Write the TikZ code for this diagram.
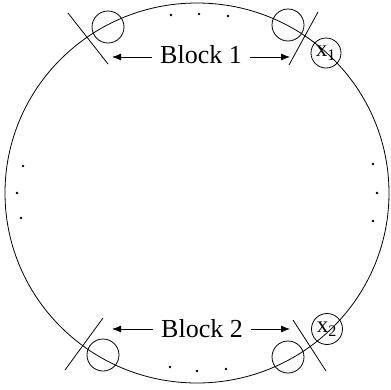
\documentclass[tikz,border=0pt]{standalone}
\usepackage{fontspec}
\setmainfont{Liberation Serif}
\usetikzlibrary{arrows.meta}

\begin{document}
\begin{tikzpicture}[x=1pt, y=-1pt, line width=0.8pt]
        \useasboundingbox (0,0) rectangle (391,389);

        % Draw ring
        \draw (197,193) ellipse [x radius=192, y radius=190];

        % Draw nodes
        \node[circle, draw, minimum size=32pt] (a) at (108,27) {};
        \node[circle, draw, minimum size=32pt] (b) at (288,25) {};
        \node[circle, draw, minimum size=32pt] (c) at (103,355) {};
        \node[circle, draw, minimum size=32pt] (d) at (288,357) {};
        \node[circle, draw, minimum size=30pt, inner sep=0pt, font=\fontsize{23}{25}\selectfont] (x1) at (326,53) {x\textsubscript{1}};
        \node[circle, draw, minimum size=31pt, inner sep=0pt, font=\fontsize{23}{25}\selectfont] (x2) at (327,329) {x\textsubscript{2}};

        % Draw cuts
        \draw (68,13) -- (108,64);
        \draw (318,12) -- (289,65);
        \draw (103,318) -- (65,370);
        \draw (293,320) -- (326,371);

        % Draw block labels
        \node[anchor=base, inner xsep=8pt, font=\fontsize{26}{30}\selectfont] (b1) at (201,63) {Block 1};
        \node[anchor=base, inner xsep=8pt, font=\fontsize{26}{30}\selectfont] (b2) at (202,337) {Block 2};
        \coordinate (b1l) at (112,57);
        \coordinate (b1r) at (290,57);
        \coordinate (b2l) at (112,329);
        \coordinate (b2r) at (290,329);

        % Draw arrows
        \draw[-{Latex[length=9pt, width=7pt]}] (b1.west |- b1l) -- (b1l);
        \draw[-{Latex[length=9pt, width=7pt]}] (b1.east |- b1r) -- (b1r);
        \draw[-{Latex[length=9pt, width=7pt]}] (b2.west |- b2l) -- (b2l);
        \draw[-{Latex[length=9pt, width=7pt]}] (b2.east |- b2r) -- (b2r);

        % Draw dots
        \foreach \p in {(171,15), (199,14), (228,16), (170,367), (197,371), (226,369),
                        (23,166), (17,193), (21,218), (373,164), (377,193), (373,221)}
            \fill \p circle (1.4);
    \end{tikzpicture}
\end{document}
